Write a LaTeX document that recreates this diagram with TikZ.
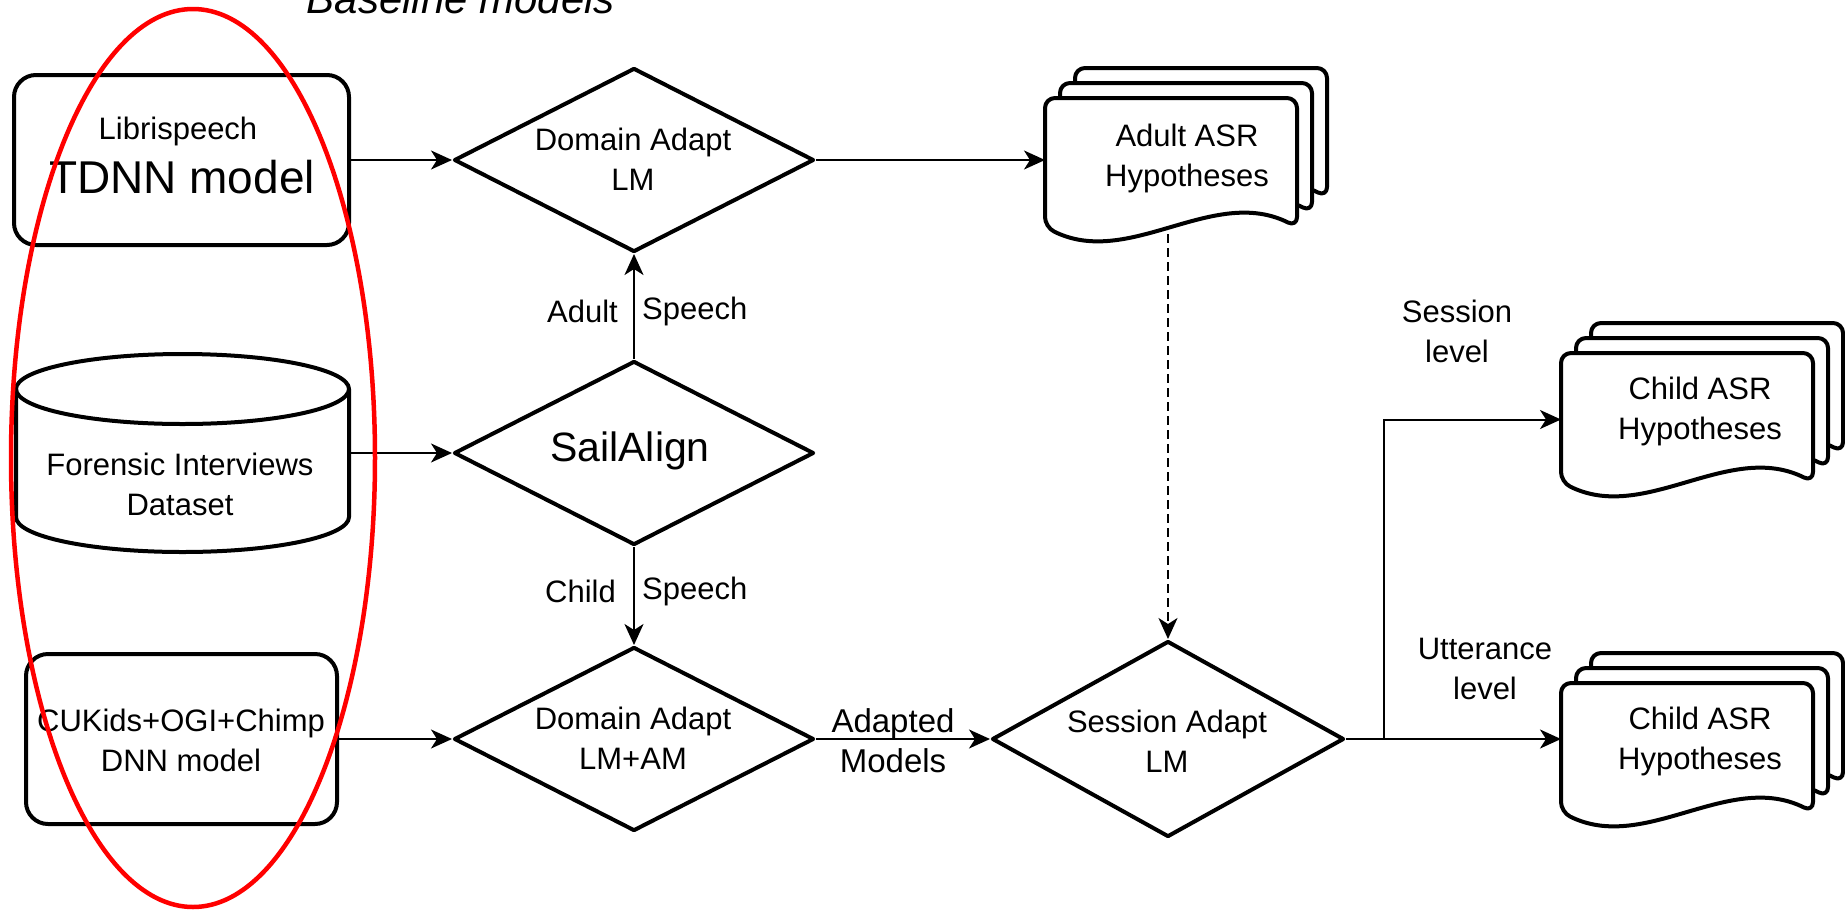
\documentclass[tikz,border=0pt]{standalone}
\usepackage{fontspec}
\setmainfont{Liberation Sans}
\usetikzlibrary{shapes.geometric, arrows.meta}

% one sheet of a stacked "document" shape: top-left corner (#1,#2), wavy bottom edge
\newcommand\docsheet[2]{%
  \draw[shapeline, fill=white, rounded corners=10pt]
    (#1+252,#2+129) .. controls (#1+168,#2+87) and (#1+84,#2+171) .. (#1,#2+129)
    -- (#1,#2) -- (#1+252,#2) -- cycle;}

\begin{document}
\begin{tikzpicture}[x=1pt, y=-1pt,
  shapeline/.style={line width=4pt, draw=black, line join=round},
  conn/.style={line width=2pt, -{Stealth[length=21pt,width=19pt,inset=6pt]}},
  decision/.style={diamond, shapeline, minimum width=360pt, minimum height=184pt, inner sep=0pt},
  roundbox/.style={rectangle, rounded corners=22pt, shapeline, inner sep=0pt},
  holder/.style={rectangle, inner sep=0pt, outer sep=2pt},
  lbl/.style={font=\fontsize{31}{40}\selectfont, align=center, inner sep=0pt, text=black},
]
\useasboundingbox (0,0) rectangle (1845,911);

% title
\node[lbl, font=\fontsize{42}{48}\selectfont\itshape, anchor=base] (title) at (461,13) {Baseline models};

% left column: sources
\node[roundbox, minimum width=335pt, minimum height=170pt] (libri) at (181.5,160) {};
\node[lbl] (libritop) at (178,131) {Librispeech};
\node[lbl, font=\fontsize{46}{52}\selectfont] (libribot) at (182,177) {TDNN model};

\draw[shapeline, fill=white] (16,389) -- (16,517)
  arc[start angle=180, end angle=360, x radius=166.5pt, y radius=35pt] -- (349,389);
\draw[shapeline] (182.5,389) ellipse[x radius=166.5pt, y radius=35pt];
\node[holder, minimum width=333pt, minimum height=198pt] (cyl) at (182.5,453) {};
\node[lbl] (cyltxt) at (180,484) {Forensic Interviews\\Dataset};

\node[roundbox, minimum width=311pt, minimum height=170pt] (cukids) at (181.5,739) {};
\node[lbl] (cukidstxt) at (181,740) {CUKids+OGI+Chimp\\DNN model};

% middle column: processing steps
\node[decision] (dalm) at (634,160) {};
\node[lbl] (dalmtxt) at (633,159) {Domain Adapt\\LM};
\node[decision] (sail) at (634,453) {};
\node[lbl, font=\fontsize{41}{48}\selectfont] (sailtxt) at (630,451) {SailAlign};
\node[decision] (dalmam) at (634,739) {};
\node[lbl] (dalmamtxt) at (633,738) {Domain Adapt\\LM+AM};
\node[decision, minimum width=352pt, minimum height=196pt] (sess) at (1168,739) {};
\node[lbl] (sesstxt) at (1167,741) {Session Adapt\\LM};

% output document stacks
\docsheet{1075}{68}
\docsheet{1060}{83}
\docsheet{1045}{98}
\node[holder, minimum width=252pt, minimum height=129pt, anchor=north west] (adultdoc) at (1045,98) {};
\node[lbl] (adulttxt) at (1187,158) {Adult ASR\\Hypotheses};

\docsheet{1591}{323}
\docsheet{1576}{338}
\docsheet{1561}{353}
\node[holder, minimum width=252pt, minimum height=129pt, anchor=north west] (cdoca) at (1561,353) {};
\node[lbl] (cdocatxt) at (1700,411) {Child ASR\\Hypotheses};

\docsheet{1591}{653}
\docsheet{1576}{668}
\docsheet{1561}{683}
\node[holder, minimum width=252pt, minimum height=129pt, anchor=north west] (cdocb) at (1561,683) {};
\node[lbl] (cdocbtxt) at (1700,741) {Child ASR\\Hypotheses};

% connectors
\draw[conn] (libri.east |- dalm.west) -- (dalm.west);
\draw[conn] (cyl.east |- sail.west) -- (sail.west);
\draw[conn] (cukids.east |- dalmam.west) -- (dalmam.west);
\draw[conn] (sail.north) -- (dalm.south);
\draw[conn] (sail.south) -- (dalmam.north);
\draw[conn] (dalm.east) -- (dalm.east -| adultdoc.west);
\draw[conn] (dalmam.east) -- (sess.west);
\coordinate (adultbot) at (1168,234);
\draw[conn, dash pattern=on 9pt off 5pt] (adultbot) -- (sess.north);
\coordinate (branch) at ([xshift=38pt]sess.east);
\draw[line width=2pt] (sess.east) -- (branch);
\draw[conn] (branch) |- (cdoca.west);
\draw[conn] (branch) -- (branch -| cdocb.west);

% connector labels
\node[lbl, anchor=east] (adultlbl) at (618,311) {Adult};
\node[lbl, anchor=west] (speechlbla) at (642,311) {Speech};
\node[lbl, anchor=east] (childlbl) at (616,591) {Child};
\node[lbl, anchor=west] (speechlblb) at (642,591) {Speech};
\node[lbl, font=\fontsize{33}{40}\selectfont] (adaptedlbl) at (893,741) {Adapted\\Models};
\node[lbl] (sesslvl) at (1457,331) {Session\\level};
\node[lbl] (uttlvl) at (1485,669) {Utterance\\level};

% highlight round the baseline models
\draw[red, line width=4.5pt] (193,458) ellipse[x radius=182pt, y radius=449pt];
\end{tikzpicture}
\end{document}
